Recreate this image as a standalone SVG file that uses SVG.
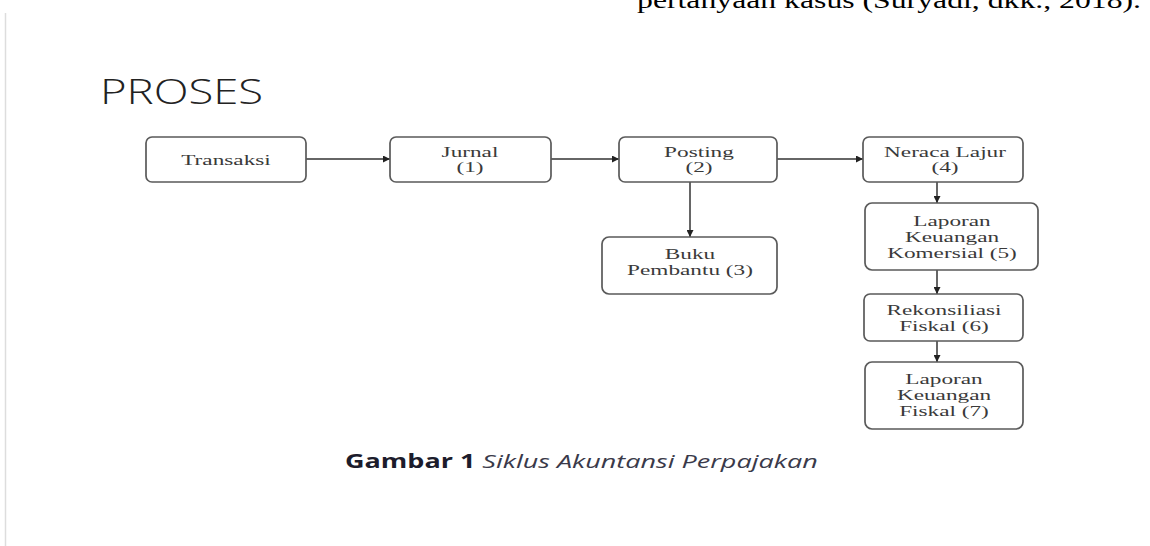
<svg xmlns="http://www.w3.org/2000/svg" width="1150" height="546" viewBox="0 0 1150 546">
<style>
.box{fill:#fff;stroke:#5a5a5a;stroke-width:1.7}
.lbl{font-family:"Liberation Serif",serif;font-size:15.5px;fill:#3a3a3a;text-anchor:middle}
.con{stroke:#333;stroke-width:1.5;fill:none}
</style>
<defs>
<marker id="ah" viewBox="0 0 10 10" refX="10" refY="5" markerWidth="8" markerHeight="7" markerUnits="userSpaceOnUse" orient="auto">
<path d="M0,0 L10,5 L0,10 z" fill="#222"/>
</marker>
</defs>
<rect width="1150" height="546" fill="#fff"/>
<line x1="5.5" y1="13" x2="5.5" y2="546" stroke="#ddd" stroke-width="1.5"/>
<text transform="translate(1141,7.5) scale(1.38,1)" font-family="Liberation Serif,serif" font-size="23" fill="#000" text-anchor="end">pertanyaan kasus (Suryadi, dkk., 2018).</text>
<text transform="translate(100,104) scale(1.3,1)" font-family="Open Sans,sans-serif" font-weight="300" font-size="35" fill="#222">PROSES</text>
<g id="connectors">
<line class="con" x1="306" y1="159" x2="390" y2="159" marker-end="url(#ah)"/>
<line class="con" x1="551" y1="159" x2="619" y2="159" marker-end="url(#ah)"/>
<line class="con" x1="777" y1="159" x2="863" y2="159" marker-end="url(#ah)"/>
<line class="con" x1="690" y1="182" x2="690" y2="237" marker-end="url(#ah)"/>
<line class="con" x1="937" y1="182" x2="937" y2="203" marker-end="url(#ah)"/>
<line class="con" x1="937" y1="270" x2="937" y2="294" marker-end="url(#ah)"/>
<line class="con" x1="937" y1="341" x2="937" y2="362" marker-end="url(#ah)"/>
</g>
<g id="transaksi"><rect class="box" x="146" y="137" width="160" height="45" rx="6"/><g transform="translate(226,0) scale(1.5,1)"><text class="lbl" x="0" y="165">Transaksi</text></g></g>
<g id="jurnal"><rect class="box" x="390" y="137" width="161" height="45" rx="6"/><g transform="translate(470,0) scale(1.5,1)"><text class="lbl" x="0" y="157">Jurnal</text><text class="lbl" x="0" y="172">(1)</text></g></g>
<g id="posting"><rect class="box" x="619" y="137" width="158" height="45" rx="6"/><g transform="translate(699,0) scale(1.5,1)"><text class="lbl" x="0" y="157">Posting</text><text class="lbl" x="0" y="172">(2)</text></g></g>
<g id="neraca"><rect class="box" x="863" y="137" width="160" height="45" rx="6"/><g transform="translate(945,0) scale(1.5,1)"><text class="lbl" x="0" y="157">Neraca Lajur</text><text class="lbl" x="0" y="172">(4)</text></g></g>
<g id="buku"><rect class="box" x="602" y="237" width="175" height="57" rx="7"/><g transform="translate(690,0) scale(1.5,1)"><text class="lbl" x="0" y="259">Buku</text><text class="lbl" x="0" y="275">Pembantu (3)</text></g></g>
<g id="lapkom"><rect class="box" x="865" y="203" width="173" height="67" rx="7"/><g transform="translate(952,0) scale(1.5,1)"><text class="lbl" x="0" y="226">Laporan</text><text class="lbl" x="0" y="242">Keuangan</text><text class="lbl" x="0" y="258">Komersial (5)</text></g></g>
<g id="rekon"><rect class="box" x="864" y="294" width="159" height="47" rx="6"/><g transform="translate(944,0) scale(1.5,1)"><text class="lbl" x="0" y="315">Rekonsiliasi</text><text class="lbl" x="0" y="331">Fiskal (6)</text></g></g>
<g id="lapfis"><rect class="box" x="865" y="362" width="158" height="67" rx="7"/><g transform="translate(944,0) scale(1.5,1)"><text class="lbl" x="0" y="384">Laporan</text><text class="lbl" x="0" y="400">Keuangan</text><text class="lbl" x="0" y="416">Fiskal (7)</text></g></g>
<text transform="translate(345,468) scale(1.42,1)" font-family="Open Sans,sans-serif" font-size="19" fill="#1c1c2c"><tspan font-weight="700">Gambar 1</tspan><tspan font-style="italic" fill="#3a3a4a"> Siklus Akuntansi Perpajakan</tspan></text>
</svg>
